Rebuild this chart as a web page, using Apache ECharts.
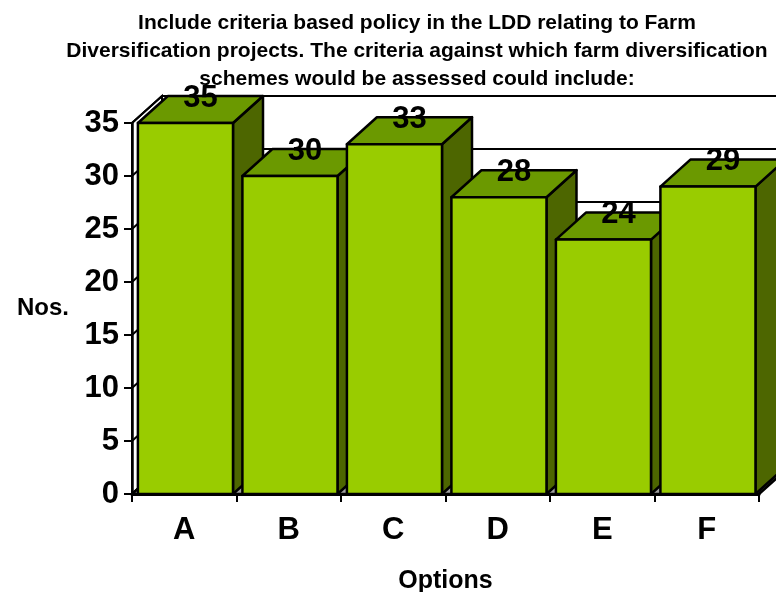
<!DOCTYPE html>
<html>
<head>
<meta charset="utf-8">
<script src="https://cdn.jsdelivr.net/npm/echarts@6/dist/echarts.min.js"></script>
<style>
  html, body { margin: 0; padding: 0; background: #ffffff; }
  #chart { width: 776px; height: 592px; }
</style>
</head>
<body>
<div id="chart"></div>
<script>
// Survey responses per option
var categories = ['A', 'B', 'C', 'D', 'E', 'F'];
var responses = [35, 30, 33, 28, 24, 29];
var yTicks = [0, 5, 10, 15, 20, 25, 30, 35];

var titleLines = [
  'Include criteria based policy in the LDD relating to Farm',
  'Diversification projects. The criteria against which farm diversification',
  'schemes would be assessed could include:'
];

var FONT = '"Liberation Sans", Arial, Helvetica, sans-serif';
// Oblique projection of the chart depth
var DX = 30, DY = -27;
var FRONT = '#99cc00', TOP = '#6b9900', SIDE = '#4d6600';
var EDGE = '#000000';
var EDGE_W = 2.5;

var chart = echarts.init(document.getElementById('chart'), null, { renderer: 'canvas' });

function poly(points, fill, z2) {
  return {
    type: 'polygon',
    z2: z2 || 0,
    shape: { points: points },
    style: { fill: fill, stroke: EDGE, lineWidth: EDGE_W, lineJoin: 'round' }
  };
}

// Walls, floor and gridlines behind the bars
function renderFrame(params, api) {
  var band = api.size([1, 0])[0];
  var x0 = api.coord([0, 0])[0] - band / 2;
  var x1 = api.coord([categories.length - 1, 0])[0] + band / 2;
  var yMax = yTicks[yTicks.length - 1];
  var y0 = api.coord([0, 0])[1];
  var yTop = api.coord([0, yMax])[1];
  var children = [];
  // back wall
  children.push({
    type: 'polygon', z2: 0,
    shape: { points: [[x0 + DX, yTop + DY], [x1 + DX, yTop + DY], [x1 + DX, y0 + DY], [x0 + DX, y0 + DY]] },
    style: { fill: '#ffffff', stroke: null }
  });
  // left wall
  children.push({
    type: 'polygon', z2: 1,
    shape: { points: [[x0, y0], [x0, yTop], [x0 + DX, yTop + DY], [x0 + DX, y0 + DY]] },
    style: { fill: '#ffffff', stroke: EDGE, lineWidth: 2 }
  });
  // gridlines on back and left walls
  yTicks.forEach(function (v) {
    var y = api.coord([0, v])[1];
    children.push({
      type: 'polyline', z2: 2,
      shape: { points: [[x0, y], [x0 + DX, y + DY], [x1 + DX, y + DY]] },
      style: { fill: null, stroke: EDGE, lineWidth: 2 }
    });
  });
  // floor
  children.push(poly([[x0, y0], [x1, y0], [x1 + DX, y0 + DY], [x0 + DX, y0 + DY]], '#a0a0a0', 3));
  return { type: 'group', children: children };
}

// One 3D column: side, top and front faces plus value label
function renderBar(params, api) {
  var idx = api.value(0);
  var val = api.value(1);
  var band = api.size([1, 0])[0];
  var c = api.coord([idx, val]);
  var base = api.coord([idx, 0]);
  var w = band * 0.91;
  var l = c[0] - w / 2 + 1.2;
  var r = l + w;
  var t = c[1];
  var b = base[1];
  return {
    type: 'group',
    children: [
      poly([[r, b], [r, t], [r + DX, t + DY], [r + DX, b + DY]], SIDE, 1),
      poly([[l, t], [r, t], [r + DX, t + DY], [l + DX, t + DY]], TOP, 2),
      poly([[l, b], [l, t], [r, t], [r, b]], FRONT, 3),
      {
        type: 'text', z2: 10,
        x: (l + r) / 2 + DX / 2,
        y: t + DY + 2,
        style: {
          text: String(val),
          fill: '#000000',
          font: 'bold 31px ' + FONT,
          align: 'center',
          verticalAlign: 'middle'
        }
      }
    ]
  };
}

var option = {
  animation: false,
  backgroundColor: '#ffffff',
  grid: { left: 132, right: 17, top: 123, bottom: 98, containLabel: false, outerBoundsMode: 'none' },
  graphic: [{
    type: 'text',
    x: 417,
    y: 9,
    style: {
      text: titleLines.join('\n'),
      font: 'bold 21px ' + FONT,
      lineHeight: 28,
      fill: '#000000',
      align: 'center',
      verticalAlign: 'top'
    }
  }],
  xAxis: {
    type: 'category',
    data: categories,
    z: 10,
    name: 'Options',
    nameLocation: 'middle',
    nameGap: 75,
    nameTextStyle: { fontFamily: FONT, fontWeight: 'bold', fontSize: 25, color: '#000' },
    axisLine: { show: true, lineStyle: { color: '#000', width: 3 } },
    axisTick: { show: true, length: 8, lineStyle: { color: '#000', width: 2 } },
    axisLabel: { margin: 21, fontFamily: FONT, fontWeight: 'bold', fontSize: 31, color: '#000' },
    splitLine: { show: false }
  },
  yAxis: {
    type: 'value',
    min: 0,
    max: 35,
    interval: 5,
    z: 10,
    name: 'Nos.',
    nameLocation: 'middle',
    nameRotate: 0,
    nameGap: 63,
    nameTextStyle: { fontFamily: FONT, fontWeight: 'bold', fontSize: 24, color: '#000' },
    axisLine: { show: true, lineStyle: { color: '#000', width: 2.5 } },
    axisTick: { show: true, length: 8, lineStyle: { color: '#000', width: 2 } },
    axisLabel: { margin: 13, fontFamily: FONT, fontWeight: 'bold', fontSize: 31, color: '#000' },
    splitLine: { show: false }
  },
  series: [
    {
      type: 'custom',
      clip: false,
      z: 1,
      renderItem: renderFrame,
      data: [[0, 0]],
      silent: true
    },
    {
      type: 'custom',
      clip: false,
      z: 2,
      renderItem: renderBar,
      encode: { x: 0, y: 1 },
      data: responses.map(function (v, i) { return [i, v]; })
    }
  ]
};

chart.setOption(option);
</script>
</body>
</html>
